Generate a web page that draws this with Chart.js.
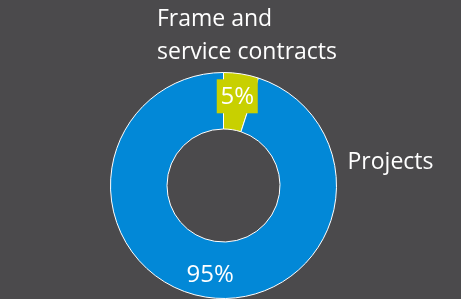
<!DOCTYPE html>
<html>
<head>
<meta charset="utf-8">
<script src="https://cdn.jsdelivr.net/npm/chart.js@4/dist/chart.umd.min.js"></script>
<style>
html,body{margin:0;padding:0;background:#4b4a4c;}
#wrap{width:461px;height:299px;position:relative;}
</style>
</head>
<body>
<div id="wrap"><canvas id="c" width="461" height="299"></canvas></div>
<script>
const categories = ["Frame and service contracts", "Projects"];
const categoryLines = [["Frame and", "service contracts"], ["Projects"]];
const values = [5, 95];
const valueLabels = ["5%", "95%"];
const colors = ["#c8d000", "#0288d7"];

const FONT = "'Open Sans', sans-serif";

const labelPlugin = {
  id: 'labels',
  afterDatasetsDraw(chart) {
    const ctx = chart.ctx;
    const meta = chart.getDatasetMeta(0);
    const a0 = meta.data[0];
    const cx = a0.x, cy = a0.y, R = a0.outerRadius;
    ctx.save();
    ctx.font = "24px " + FONT;
    ctx.textBaseline = 'middle';
    ctx.textAlign = 'center';
    // value labels
    meta.data.forEach((arc, i) => {
      const p = arc.tooltipPosition();
      if (i === 0) {
        const w = 41, h = 34;
        const bx = p.x + 0.5, by = p.y - 5.5;
        ctx.fillStyle = colors[0];
        ctx.fillRect(bx - w / 2, by - h / 2, w, h);
        ctx.fillStyle = '#ffffff';
        ctx.fillText(valueLabels[i], bx, by + 1);
      } else {
        ctx.fillStyle = '#ffffff';
        ctx.fillText(valueLabels[i], p.x, p.y + 6);
      }
    });
    // category labels
    ctx.font = "23px " + FONT;
    ctx.textAlign = 'left';
    ctx.textBaseline = 'alphabetic';
    ctx.fillStyle = '#ffffff';
    const l0 = categoryLines[0];
    ctx.fillText(l0[0], cx - 66.5, cy - R - 47);
    ctx.fillText(l0[1], cx - 66.5, cy - R - 14);
    ctx.fillText(categoryLines[1][0], cx + R + 11, cy - 17);
    ctx.restore();
  }
};

new Chart(document.getElementById('c'), {
  type: 'doughnut',
  data: {
    labels: categories,
    datasets: [{
      data: values,
      backgroundColor: colors,
      borderColor: '#ffffff',
      borderWidth: 1,
      hoverOffset: 0
    }]
  },
  options: {
    responsive: false,
    animation: false,
    cutout: '50%',
    layout: { padding: { left: 110, right: 124, top: 72, bottom: 0 } },
    plugins: { legend: { display: false }, tooltip: { enabled: false } }
  },
  plugins: [labelPlugin]
});
</script>
</body>
</html>
